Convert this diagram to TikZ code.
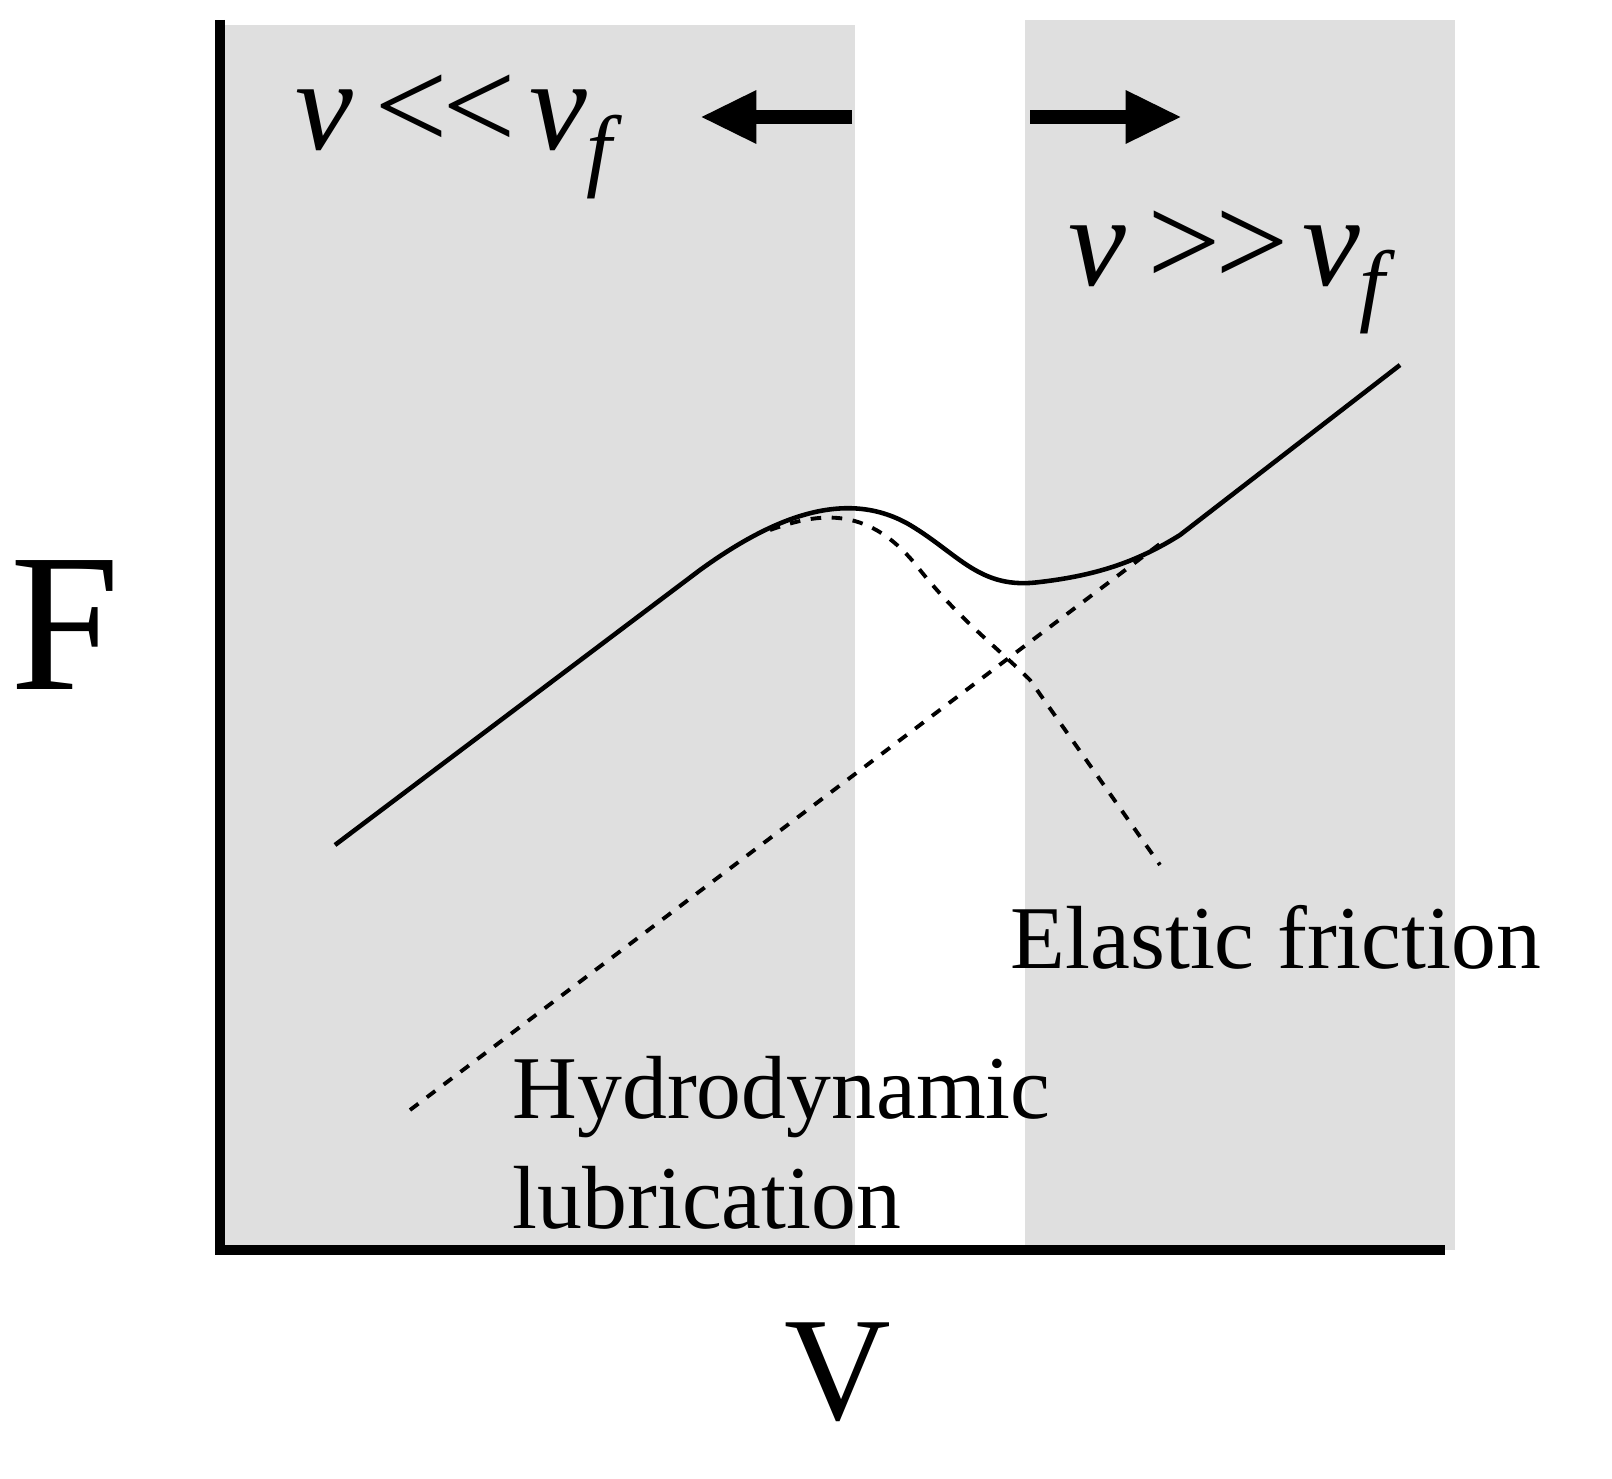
\documentclass[tikz,border=0pt]{standalone}
\usepackage{fontspec}
\setmainfont{Liberation Serif}
\usetikzlibrary{arrows.meta}
\begin{document}
\begin{tikzpicture}[x=0.01cm,y=-0.01cm,
  lbl/.style={inner sep=0pt,anchor=base west,font=\fontsize{25.5}{28}\selectfont},
  big/.style={inner sep=0pt,font=\fontsize{37}{44}\selectfont\itshape},
  arr/.style={line width=4pt,-{Triangle[length=16pt,width=14pt]}}]
\useasboundingbox (0,0) rectangle (1612,1479);
\fill[white] (0,0) rectangle (1612,1479);
\fill[gray!25] (222,25) rectangle (855,1250);
\fill[gray!25] (1025,20) rectangle (1455,1250);
\draw[line width=3pt] (220,20) -- (220,1250) -- (1445,1250);
% curves
\draw[line width=1.3pt] (335,845) -- (700,570) .. controls (780,512) and (850,490) .. (910,525)
  .. controls (960,555) and (980,590) .. (1040,582) .. controls (1100,575) and (1140,560) .. (1180,535) -- (1400,365);
\draw[line width=1.1pt,dashed] (770,530) .. controls (820,512) and (870,505) .. (920,570)
  .. controls (960,620) and (1000,650) .. (1030,680) -- (1160,865);
\draw[line width=1.1pt,dashed] (410,1110) -- (1165,540);
% arrows
\coordinate (la) at (852,117); \coordinate (lb) at (700,117);
\coordinate (ra) at (1030,117); \coordinate (rb) at (1182,117);
\draw[arr] (la) -- (lb);
\draw[arr] (ra) -- (rb);
\node[big,anchor=base west] (t1) at (295,150) {v\kern0.1em<\kern-0.15em<\kern0.05em v\raisebox{-0.5ex}{\fontsize{26}{28}\selectfont\itshape f}};
\node[big,anchor=base west] (t2) at (1068,285) {v\kern0.1em>\kern-0.15em>\kern0.05em v\raisebox{-0.5ex}{\fontsize{26}{28}\selectfont\itshape f}};
\node[inner sep=0pt,font=\fontsize{56}{60}\selectfont] (F) at (65,625) {F};
\node[inner sep=0pt,font=\fontsize{42}{46}\selectfont] (V) at (838,1372) {V};
\node[lbl] (ef) at (1010,968) {Elastic friction};
\node[lbl] (hl) at (512,1118) {Hydrodynamic};
\node[lbl] (hl2) at (512,1228) {lubrication};
\end{tikzpicture}
\end{document}
